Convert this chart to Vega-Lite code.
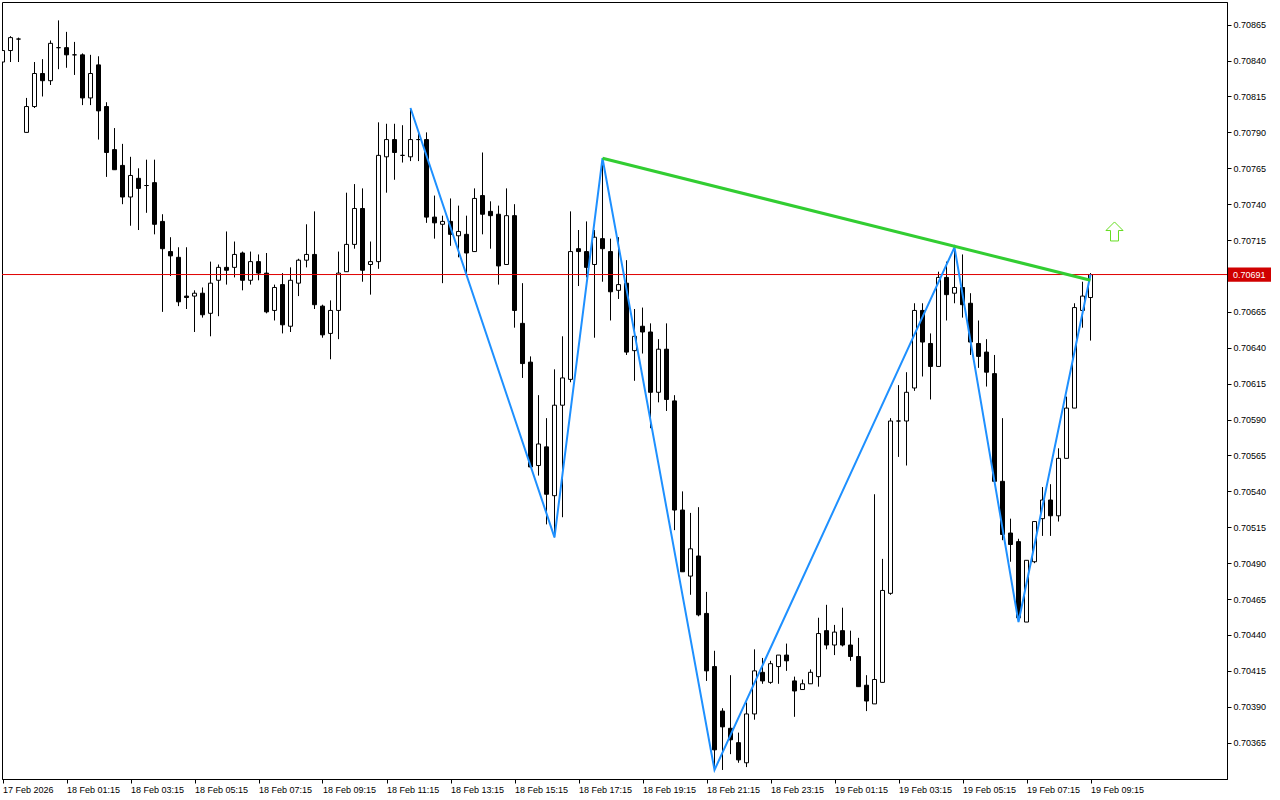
{
  "$schema": "https://vega.github.io/schema/vega-lite/v6.json",
  "width": 1225,
  "height": 777,
  "autosize": {"type": "none"},
  "padding": {"left": 2, "top": 2, "right": 53, "bottom": 21},
  "background": "white",
  "view": {"stroke": "black", "strokeWidth": 1, "fill": "white"},
  "config": {
    "axis": {
      "labelFont": "Liberation Sans",
      "labelFontSize": 9,
      "labelColor": "black",
      "tickColor": "black",
      "domainColor": "black",
      "grid": false,
      "title": null,
      "tickSize": 4,
      "labelPadding": 2,
      "labelFlush": false,
      "labelOverlap": false
    },
    "axisX": {
      "labelAlign": "left",
      "labelBaseline": "top",
      "labelBound": false
    },
    "axisY": {
      "labelAlign": "left",
      "labelBaseline": "middle"
    }
  },
  "datasets": {
    "candles": [
      {"i": 0, "open": 0.70839, "high": 0.70847, "low": 0.70838, "close": 0.70847},
      {"i": 1, "open": 0.70847, "high": 0.70857, "low": 0.70839, "close": 0.70856},
      {"i": 2, "open": 0.70855, "high": 0.70856, "low": 0.70839, "close": 0.70855},
      {"i": 3, "open": 0.70790, "high": 0.70814, "low": 0.70790, "close": 0.70808},
      {"i": 4, "open": 0.70808, "high": 0.70839, "low": 0.70807, "close": 0.70831},
      {"i": 5, "open": 0.70831, "high": 0.70841, "low": 0.70815, "close": 0.70826},
      {"i": 6, "open": 0.70826, "high": 0.70854, "low": 0.70823, "close": 0.70852},
      {"i": 7, "open": 0.70849, "high": 0.70868, "low": 0.70834, "close": 0.70849},
      {"i": 8, "open": 0.70849, "high": 0.70860, "low": 0.70835, "close": 0.70844},
      {"i": 9, "open": 0.70844, "high": 0.70853, "low": 0.70830, "close": 0.70844},
      {"i": 10, "open": 0.70844, "high": 0.70845, "low": 0.70809, "close": 0.70814},
      {"i": 11, "open": 0.70814, "high": 0.70844, "low": 0.70809, "close": 0.70831},
      {"i": 12, "open": 0.70837, "high": 0.70843, "low": 0.70785, "close": 0.70805},
      {"i": 13, "open": 0.70808, "high": 0.70811, "low": 0.70759, "close": 0.70776},
      {"i": 14, "open": 0.70778, "high": 0.70793, "low": 0.70764, "close": 0.70764},
      {"i": 15, "open": 0.70767, "high": 0.70782, "low": 0.70740, "close": 0.70745},
      {"i": 16, "open": 0.70745, "high": 0.70773, "low": 0.70725, "close": 0.70760},
      {"i": 17, "open": 0.70758, "high": 0.70765, "low": 0.70722, "close": 0.70751},
      {"i": 18, "open": 0.70753, "high": 0.70771, "low": 0.70734, "close": 0.70753},
      {"i": 19, "open": 0.70755, "high": 0.70771, "low": 0.70719, "close": 0.70726},
      {"i": 20, "open": 0.70728, "high": 0.70733, "low": 0.70665, "close": 0.70709},
      {"i": 21, "open": 0.70707, "high": 0.70717, "low": 0.70690, "close": 0.70704},
      {"i": 22, "open": 0.70703, "high": 0.70710, "low": 0.70669, "close": 0.70672},
      {"i": 23, "open": 0.70676, "high": 0.70710, "low": 0.70667, "close": 0.70675},
      {"i": 24, "open": 0.70676, "high": 0.70680, "low": 0.70651, "close": 0.70678},
      {"i": 25, "open": 0.70678, "high": 0.70682, "low": 0.70661, "close": 0.70663},
      {"i": 26, "open": 0.70664, "high": 0.70700, "low": 0.70648, "close": 0.70685},
      {"i": 27, "open": 0.70687, "high": 0.70698, "low": 0.70662, "close": 0.70696},
      {"i": 28, "open": 0.70696, "high": 0.70721, "low": 0.70684, "close": 0.70694},
      {"i": 29, "open": 0.70696, "high": 0.70714, "low": 0.70689, "close": 0.70705},
      {"i": 30, "open": 0.70706, "high": 0.70707, "low": 0.70680, "close": 0.70687},
      {"i": 31, "open": 0.70687, "high": 0.70707, "low": 0.70684, "close": 0.70700},
      {"i": 32, "open": 0.70700, "high": 0.70705, "low": 0.70687, "close": 0.70692},
      {"i": 33, "open": 0.70692, "high": 0.70706, "low": 0.70664, "close": 0.70665},
      {"i": 34, "open": 0.70666, "high": 0.70684, "low": 0.70659, "close": 0.70682},
      {"i": 35, "open": 0.70684, "high": 0.70692, "low": 0.70650, "close": 0.70656},
      {"i": 36, "open": 0.70655, "high": 0.70696, "low": 0.70651, "close": 0.70687},
      {"i": 37, "open": 0.70685, "high": 0.70702, "low": 0.70676, "close": 0.70701},
      {"i": 38, "open": 0.70701, "high": 0.70726, "low": 0.70696, "close": 0.70705},
      {"i": 39, "open": 0.70705, "high": 0.70735, "low": 0.70667, "close": 0.70670},
      {"i": 40, "open": 0.70669, "high": 0.70670, "low": 0.70647, "close": 0.70649},
      {"i": 41, "open": 0.70650, "high": 0.70673, "low": 0.70632, "close": 0.70666},
      {"i": 42, "open": 0.70666, "high": 0.70707, "low": 0.70646, "close": 0.70692},
      {"i": 43, "open": 0.70693, "high": 0.70748, "low": 0.70693, "close": 0.70712},
      {"i": 44, "open": 0.70712, "high": 0.70754, "low": 0.70709, "close": 0.70737},
      {"i": 45, "open": 0.70737, "high": 0.70751, "low": 0.70686, "close": 0.70694},
      {"i": 46, "open": 0.70698, "high": 0.70714, "low": 0.70677, "close": 0.70700},
      {"i": 47, "open": 0.70700, "high": 0.70797, "low": 0.70695, "close": 0.70774},
      {"i": 48, "open": 0.70773, "high": 0.70796, "low": 0.70748, "close": 0.70785},
      {"i": 49, "open": 0.70785, "high": 0.70796, "low": 0.70757, "close": 0.70776},
      {"i": 50, "open": 0.70774, "high": 0.70795, "low": 0.70769, "close": 0.70774},
      {"i": 51, "open": 0.70773, "high": 0.70807, "low": 0.70770, "close": 0.70785},
      {"i": 52, "open": 0.70785, "high": 0.70790, "low": 0.70770, "close": 0.70785},
      {"i": 53, "open": 0.70785, "high": 0.70790, "low": 0.70727, "close": 0.70731},
      {"i": 54, "open": 0.70731, "high": 0.70746, "low": 0.70716, "close": 0.70727},
      {"i": 55, "open": 0.70726, "high": 0.70732, "low": 0.70685, "close": 0.70728},
      {"i": 56, "open": 0.70728, "high": 0.70744, "low": 0.70711, "close": 0.70719},
      {"i": 57, "open": 0.70718, "high": 0.70739, "low": 0.70703, "close": 0.70721},
      {"i": 58, "open": 0.70719, "high": 0.70732, "low": 0.70691, "close": 0.70706},
      {"i": 59, "open": 0.70707, "high": 0.70751, "low": 0.70707, "close": 0.70744},
      {"i": 60, "open": 0.70746, "high": 0.70776, "low": 0.70719, "close": 0.70733},
      {"i": 61, "open": 0.70735, "high": 0.70742, "low": 0.70709, "close": 0.70732},
      {"i": 62, "open": 0.70733, "high": 0.70739, "low": 0.70684, "close": 0.70697},
      {"i": 63, "open": 0.70698, "high": 0.70751, "low": 0.70698, "close": 0.70732},
      {"i": 64, "open": 0.70732, "high": 0.70740, "low": 0.70654, "close": 0.70666},
      {"i": 65, "open": 0.70657, "high": 0.70685, "low": 0.70619, "close": 0.70629},
      {"i": 66, "open": 0.70630, "high": 0.70634, "low": 0.70557, "close": 0.70557},
      {"i": 67, "open": 0.70558, "high": 0.70607, "low": 0.70551, "close": 0.70573},
      {"i": 68, "open": 0.70571, "high": 0.70591, "low": 0.70517, "close": 0.70538},
      {"i": 69, "open": 0.70537, "high": 0.70625, "low": 0.70508, "close": 0.70600},
      {"i": 70, "open": 0.70600, "high": 0.70648, "low": 0.70522, "close": 0.70619},
      {"i": 71, "open": 0.70618, "high": 0.70735, "low": 0.70616, "close": 0.70707},
      {"i": 72, "open": 0.70709, "high": 0.70722, "low": 0.70683, "close": 0.70707},
      {"i": 73, "open": 0.70707, "high": 0.70728, "low": 0.70689, "close": 0.70696},
      {"i": 74, "open": 0.70698, "high": 0.70722, "low": 0.70647, "close": 0.70717},
      {"i": 75, "open": 0.70716, "high": 0.70772, "low": 0.70686, "close": 0.70709},
      {"i": 76, "open": 0.70707, "high": 0.70716, "low": 0.70659, "close": 0.70679},
      {"i": 77, "open": 0.70680, "high": 0.70717, "low": 0.70674, "close": 0.70684},
      {"i": 78, "open": 0.70685, "high": 0.70701, "low": 0.70635, "close": 0.70637},
      {"i": 79, "open": 0.70638, "high": 0.70667, "low": 0.70617, "close": 0.70648},
      {"i": 80, "open": 0.70655, "high": 0.70668, "low": 0.70636, "close": 0.70651},
      {"i": 81, "open": 0.70651, "high": 0.70657, "low": 0.70584, "close": 0.70609},
      {"i": 82, "open": 0.70609, "high": 0.70646, "low": 0.70602, "close": 0.70639},
      {"i": 83, "open": 0.70639, "high": 0.70657, "low": 0.70596, "close": 0.70604},
      {"i": 84, "open": 0.70603, "high": 0.70607, "low": 0.70513, "close": 0.70527},
      {"i": 85, "open": 0.70527, "high": 0.70540, "low": 0.70484, "close": 0.70484},
      {"i": 86, "open": 0.70481, "high": 0.70525, "low": 0.70468, "close": 0.70500},
      {"i": 87, "open": 0.70495, "high": 0.70529, "low": 0.70453, "close": 0.70454},
      {"i": 88, "open": 0.70455, "high": 0.70470, "low": 0.70408, "close": 0.70415},
      {"i": 89, "open": 0.70418, "high": 0.70429, "low": 0.70346, "close": 0.70360},
      {"i": 90, "open": 0.70387, "high": 0.70389, "low": 0.70346, "close": 0.70376},
      {"i": 91, "open": 0.70375, "high": 0.70412, "low": 0.70357, "close": 0.70367},
      {"i": 92, "open": 0.70365, "high": 0.70372, "low": 0.70351, "close": 0.70353},
      {"i": 93, "open": 0.70351, "high": 0.70393, "low": 0.70348, "close": 0.70385},
      {"i": 94, "open": 0.70385, "high": 0.70430, "low": 0.70381, "close": 0.70415},
      {"i": 95, "open": 0.70414, "high": 0.70424, "low": 0.70406, "close": 0.70408},
      {"i": 96, "open": 0.70407, "high": 0.70422, "low": 0.70406, "close": 0.70420},
      {"i": 97, "open": 0.70418, "high": 0.70426, "low": 0.70406, "close": 0.70426},
      {"i": 98, "open": 0.70426, "high": 0.70434, "low": 0.70415, "close": 0.70422},
      {"i": 99, "open": 0.70408, "high": 0.70411, "low": 0.70383, "close": 0.70401},
      {"i": 100, "open": 0.70402, "high": 0.70409, "low": 0.70402, "close": 0.70406},
      {"i": 101, "open": 0.70406, "high": 0.70416, "low": 0.70406, "close": 0.70414},
      {"i": 102, "open": 0.70411, "high": 0.70452, "low": 0.70404, "close": 0.70441},
      {"i": 103, "open": 0.70443, "high": 0.70461, "low": 0.70430, "close": 0.70433},
      {"i": 104, "open": 0.70433, "high": 0.70447, "low": 0.70426, "close": 0.70442},
      {"i": 105, "open": 0.70443, "high": 0.70459, "low": 0.70432, "close": 0.70433},
      {"i": 106, "open": 0.70433, "high": 0.70443, "low": 0.70422, "close": 0.70425},
      {"i": 107, "open": 0.70425, "high": 0.70438, "low": 0.70404, "close": 0.70404},
      {"i": 108, "open": 0.70405, "high": 0.70412, "low": 0.70387, "close": 0.70394},
      {"i": 109, "open": 0.70392, "high": 0.70538, "low": 0.70392, "close": 0.70409},
      {"i": 110, "open": 0.70407, "high": 0.70493, "low": 0.70407, "close": 0.70471},
      {"i": 111, "open": 0.70469, "high": 0.70591, "low": 0.70468, "close": 0.70589},
      {"i": 112, "open": 0.70589, "high": 0.70614, "low": 0.70564, "close": 0.70589},
      {"i": 113, "open": 0.70589, "high": 0.70623, "low": 0.70558, "close": 0.70609},
      {"i": 114, "open": 0.70612, "high": 0.70671, "low": 0.70610, "close": 0.70666},
      {"i": 115, "open": 0.70666, "high": 0.70671, "low": 0.70620, "close": 0.70644},
      {"i": 116, "open": 0.70643, "high": 0.70650, "low": 0.70604, "close": 0.70627},
      {"i": 117, "open": 0.70627, "high": 0.70693, "low": 0.70627, "close": 0.70689},
      {"i": 118, "open": 0.70689, "high": 0.70700, "low": 0.70659, "close": 0.70677},
      {"i": 119, "open": 0.70678, "high": 0.70710, "low": 0.70671, "close": 0.70682},
      {"i": 120, "open": 0.70682, "high": 0.70705, "low": 0.70661, "close": 0.70670},
      {"i": 121, "open": 0.70671, "high": 0.70678, "low": 0.70635, "close": 0.70644},
      {"i": 122, "open": 0.70643, "high": 0.70659, "low": 0.70626, "close": 0.70634},
      {"i": 123, "open": 0.70637, "high": 0.70646, "low": 0.70613, "close": 0.70623},
      {"i": 124, "open": 0.70622, "high": 0.70635, "low": 0.70545, "close": 0.70547},
      {"i": 125, "open": 0.70547, "high": 0.70591, "low": 0.70506, "close": 0.70510},
      {"i": 126, "open": 0.70511, "high": 0.70521, "low": 0.70491, "close": 0.70503},
      {"i": 127, "open": 0.70505, "high": 0.70507, "low": 0.70449, "close": 0.70452},
      {"i": 128, "open": 0.70449, "high": 0.70492, "low": 0.70449, "close": 0.70492},
      {"i": 129, "open": 0.70491, "high": 0.70519, "low": 0.70490, "close": 0.70519},
      {"i": 130, "open": 0.70521, "high": 0.70543, "low": 0.70509, "close": 0.70534},
      {"i": 131, "open": 0.70534, "high": 0.70545, "low": 0.70509, "close": 0.70523},
      {"i": 132, "open": 0.70523, "high": 0.70570, "low": 0.70519, "close": 0.70563},
      {"i": 133, "open": 0.70563, "high": 0.70606, "low": 0.70563, "close": 0.70598},
      {"i": 134, "open": 0.70598, "high": 0.70671, "low": 0.70598, "close": 0.70668},
      {"i": 135, "open": 0.70666, "high": 0.70686, "low": 0.70654, "close": 0.70676},
      {"i": 136, "open": 0.70675, "high": 0.70692, "low": 0.70645, "close": 0.70691}
    ],
    "zigzag": [
      {"i": 51, "price": 0.70807},
      {"i": 69, "price": 0.70508},
      {"i": 75, "price": 0.70772},
      {"i": 89, "price": 0.70346},
      {"i": 119, "price": 0.70710},
      {"i": 127, "price": 0.70449},
      {"i": 136, "price": 0.70691}
    ],
    "trend": [
      {"i": 75, "price": 0.70772},
      {"i": 136, "price": 0.70687}
    ],
    "signal": [
      {"i": 139, "price": 0.70721}
    ],
    "bid": [
      {"price": 0.70691}
    ]
  },
  "layer": [
    {
      "data": {"name": "candles"},
      "mark": {"type": "rule", "color": "black", "strokeWidth": 1, "clip": true},
      "encoding": {
        "x": {
          "field": "i",
          "type": "quantitative",
          "scale": {"domain": [-0.0625, 153.0625], "nice": false, "zero": false, "padding": 0},
          "axis": {
            "values": [0, 8, 16, 24, 32, 40, 48, 56, 64, 72, 80, 88, 96, 104, 112, 120, 128, 136],
            "labelExpr": "datum.value == 0 ? '17 Feb 2026' : timeFormat(datetime(2026, 1, 17, 23, 15 + datum.value * 15), '%d %b %H:%M')"
          }
        },
        "y": {
          "field": "low",
          "type": "quantitative",
          "scale": {"domain": [0.703397, 0.708808], "nice": false, "zero": false, "padding": 0},
          "axis": {
            "orient": "right",
            "values": [0.70365, 0.7039, 0.70415, 0.7044, 0.70465, 0.7049, 0.70515, 0.7054, 0.70565, 0.7059, 0.70615, 0.7064, 0.70665, 0.70715, 0.7074, 0.70765, 0.7079, 0.70815, 0.7084, 0.70865],
            "format": ".5f"
          }
        },
        "y2": {"field": "high"}
      }
    },
    {
      "data": {"name": "candles"},
      "mark": {"type": "bar", "size": 4, "stroke": "black", "strokeWidth": 1, "clip": true},
      "encoding": {
        "x": {"field": "i", "type": "quantitative", "scale": {"domain": [-0.0625, 153.0625], "nice": false, "zero": false, "padding": 0}},
        "y": {"field": "open", "type": "quantitative", "scale": {"domain": [0.703397, 0.708808], "nice": false, "zero": false, "padding": 0}},
        "y2": {"field": "close"},
        "fill": {"condition": {"test": "datum.close >= datum.open", "value": "white"}, "value": "black"}
      }
    },
    {
      "data": {"name": "bid"},
      "mark": {"type": "rule", "color": "#e00000", "strokeWidth": 1},
      "encoding": {
        "y": {"field": "price", "type": "quantitative", "scale": {"domain": [0.703397, 0.708808], "nice": false, "zero": false, "padding": 0}}
      }
    },
    {
      "data": {"name": "zigzag"},
      "mark": {"type": "line", "color": "#1e90ff", "strokeWidth": 2},
      "encoding": {
        "x": {"field": "i", "type": "quantitative", "scale": {"domain": [-0.0625, 153.0625], "nice": false, "zero": false, "padding": 0}},
        "y": {"field": "price", "type": "quantitative", "scale": {"domain": [0.703397, 0.708808], "nice": false, "zero": false, "padding": 0}}
      }
    },
    {
      "data": {"name": "trend"},
      "mark": {"type": "line", "color": "#32cd32", "strokeWidth": 3},
      "encoding": {
        "x": {"field": "i", "type": "quantitative", "scale": {"domain": [-0.0625, 153.0625], "nice": false, "zero": false, "padding": 0}},
        "y": {"field": "price", "type": "quantitative", "scale": {"domain": [0.703397, 0.708808], "nice": false, "zero": false, "padding": 0}}
      }
    },
    {
      "data": {"name": "signal"},
      "mark": {
        "type": "point",
        "shape": "M0,-1L0.9,-0.1L0.42,-0.1L0.42,1L-0.42,1L-0.42,-0.1L-0.9,-0.1Z",
        "size": 361,
        "filled": false,
        "stroke": "#66dd22",
        "strokeWidth": 1,
        "opacity": 1
      },
      "encoding": {
        "x": {"field": "i", "type": "quantitative", "scale": {"domain": [-0.0625, 153.0625], "nice": false, "zero": false, "padding": 0}},
        "y": {"field": "price", "type": "quantitative", "scale": {"domain": [0.703397, 0.708808], "nice": false, "zero": false, "padding": 0}}
      }
    },
    {
      "data": {"name": "bid"},
      "mark": {
        "type": "point",
        "shape": "M-1,-0.33L1,-0.33L1,0.33L-1,0.33Z",
        "size": 1849,
        "filled": true,
        "color": "#d00000",
        "opacity": 1
      },
      "encoding": {
        "x": {"datum": 155.875, "type": "quantitative", "scale": {"domain": [-0.0625, 153.0625], "nice": false, "zero": false, "padding": 0}},
        "y": {"field": "price", "type": "quantitative", "scale": {"domain": [0.703397, 0.708808], "nice": false, "zero": false, "padding": 0}}
      }
    },
    {
      "data": {"name": "bid"},
      "mark": {
        "type": "text",
        "align": "left",
        "baseline": "middle",
        "font": "Liberation Sans",
        "fontSize": 9,
        "color": "white"
      },
      "encoding": {
        "x": {"datum": 153.81, "type": "quantitative", "scale": {"domain": [-0.0625, 153.0625], "nice": false, "zero": false, "padding": 0}},
        "y": {"field": "price", "type": "quantitative", "scale": {"domain": [0.703397, 0.708808], "nice": false, "zero": false, "padding": 0}},
        "text": {"field": "price", "type": "quantitative", "format": ".5f"}
      }
    }
  ]
}
